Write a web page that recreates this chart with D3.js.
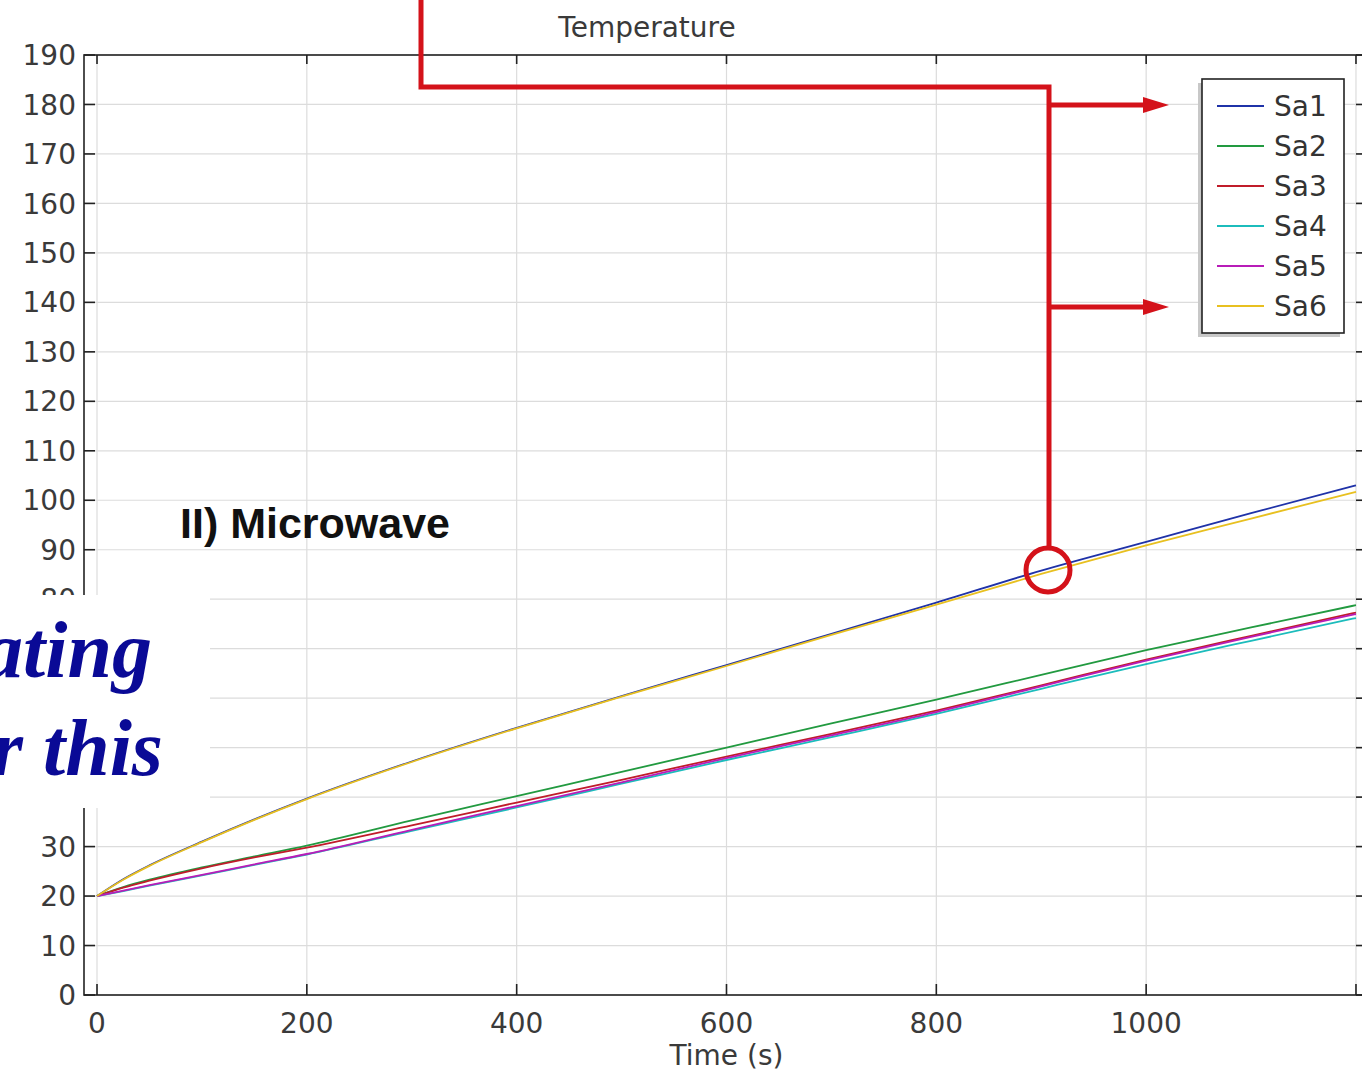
<!DOCTYPE html>
<html>
<head>
<meta charset="utf-8">
<script src="https://cdn.jsdelivr.net/npm/d3@7"></script>
<style>
  body { margin: 0; background: #fff; }
  svg { display: block; }
</style>
</head>
<body>
<div id="chart"></div>
<script>
// time (s) and temperature values
const time = [0, 25, 50, 100, 150, 200, 300, 400, 500, 600, 700, 800, 900, 1000, 1100, 1200];
const sa1 = [20, 23.4, 26.2, 31.0, 35.5, 39.7, 47.2, 54.0, 60.4, 66.7, 73.0, 79.3, 85.8, 91.6, 97.4, 103.0];
const sa2 = [20, 21.8, 23.3, 25.8, 28.0, 30.2, 35.3, 40.2, 45.1, 50.0, 54.9, 59.7, 64.7, 69.7, 74.3, 78.8];
const sa3 = [20, 21.7, 23.1, 25.6, 27.8, 29.8, 34.3, 38.9, 43.5, 48.2, 52.8, 57.5, 62.6, 67.8, 72.6, 77.3];
const sa4 = [20, 21.0, 22.1, 24.2, 26.3, 28.4, 33.2, 37.9, 42.7, 47.5, 52.1, 56.8, 61.9, 66.9, 71.6, 76.2];
const sa5 = [20, 21.1, 22.2, 24.3, 26.4, 28.5, 33.4, 38.2, 43.0, 47.9, 52.5, 57.2, 62.4, 67.6, 72.4, 77.0];
const sa6 = [20, 23.3, 26.1, 30.9, 35.4, 39.6, 47.1, 53.9, 60.3, 66.5, 72.8, 78.9, 85.1, 90.9, 96.3, 101.7];

const seriesNames = ["Sa1", "Sa2", "Sa3", "Sa4", "Sa5", "Sa6"];
const seriesValues = [sa1, sa2, sa3, sa4, sa5, sa6];
const seriesColors = ["#1f32a8", "#229a40", "#c01c2a", "#1cbcbc", "#b81cb8", "#e8c020"];

const xTicks = [0, 200, 400, 600, 800, 1000, 1200];
const xTickLabels = ["0", "200", "400", "600", "800", "1000", ""];
const yTicks = d3.range(0, 191, 10);
// labels hidden under the pasted white box in the reference
const yHidden = [40, 50, 60, 70];

const W = 1362, H = 1074;
const pLeft = 84, pRight = 1367, pTop = 55, pBottom = 995;
const font = "DejaVu Sans";

const svg = d3.select("#chart").append("svg")
    .attr("width", W)
    .attr("height", H);

const x = d3.scaleLinear().domain([-12.4, 1210.5]).range([pLeft, pRight]);
const y = d3.scaleLinear().domain([0, 190]).range([pBottom, pTop]);

svg.append("clipPath").attr("id", "plotclip")
  .append("rect")
    .attr("x", pLeft).attr("y", pTop)
    .attr("width", pRight - pLeft).attr("height", pBottom - pTop);

// grid
const grid = svg.append("g");
grid.selectAll(".gx").data(xTicks).enter().append("line")
    .attr("x1", d => x(d)).attr("x2", d => x(d))
    .attr("y1", pTop).attr("y2", pBottom)
    .attr("stroke", "#dcdcdc").attr("stroke-width", 1.2);
grid.selectAll(".gy").data(yTicks).enter().append("line")
    .attr("x1", pLeft).attr("x2", pRight)
    .attr("y1", d => y(d)).attr("y2", d => y(d))
    .attr("stroke", "#dcdcdc").attr("stroke-width", 1.2);

// data lines
const line = d3.line()
    .x((d, i) => x(time[i]))
    .y(d => y(d))
    .curve(d3.curveMonotoneX);

svg.append("g").attr("clip-path", "url(#plotclip)")
  .selectAll("path").data(seriesValues).enter().append("path")
    .attr("d", line)
    .attr("fill", "none")
    .attr("stroke", (d, i) => seriesColors[i])
    .attr("stroke-width", 1.8);

// frame with inward ticks
const frame = svg.append("g").attr("stroke", "#222").attr("stroke-width", 1.6);
frame.append("rect")
    .attr("x", pLeft).attr("y", pTop)
    .attr("width", pRight - pLeft).attr("height", pBottom - pTop)
    .attr("fill", "none");
frame.selectAll(".tb").data(xTicks).enter().append("line")
    .attr("x1", d => x(d)).attr("x2", d => x(d))
    .attr("y1", pBottom).attr("y2", pBottom - 11);
frame.selectAll(".tt").data(xTicks).enter().append("line")
    .attr("x1", d => x(d)).attr("x2", d => x(d))
    .attr("y1", pTop).attr("y2", pTop + 9);
frame.selectAll(".tl").data(yTicks).enter().append("line")
    .attr("x1", pLeft).attr("x2", pLeft + 11)
    .attr("y1", d => y(d)).attr("y2", d => y(d));
frame.selectAll(".tr").data(yTicks).enter().append("line")
    .attr("x1", pRight).attr("x2", pRight - 11)
    .attr("y1", d => y(d)).attr("y2", d => y(d));

// tick labels
svg.append("g").selectAll("text")
    .data(yTicks.filter(d => !yHidden.includes(d))).enter().append("text")
    .attr("x", 76)
    .attr("y", d => y(d))
    .attr("dy", "0.36em")
    .attr("text-anchor", "end")
    .attr("font-family", font)
    .attr("font-size", 28)
    .attr("fill", "#3a3a3a")
    .text(d => d);

svg.append("g").selectAll("text").data(xTicks).enter().append("text")
    .attr("x", d => x(d))
    .attr("y", 1033)
    .attr("text-anchor", "middle")
    .attr("font-family", font)
    .attr("font-size", 28)
    .attr("fill", "#3a3a3a")
    .text((d, i) => xTickLabels[i]);

svg.append("text")
    .attr("x", x(600)).attr("y", 1065)
    .attr("text-anchor", "middle")
    .attr("font-family", font).attr("font-size", 28)
    .attr("fill", "#3a3a3a")
    .text("Time (s)");

svg.append("text")
    .attr("x", 647).attr("y", 37)
    .attr("text-anchor", "middle")
    .attr("font-family", font).attr("font-size", 28)
    .attr("fill", "#3a3a3a")
    .text("Temperature");

// legend
const lg = svg.append("g");
lg.append("rect")
    .attr("x", 1198).attr("y", 83)
    .attr("width", 142).attr("height", 254)
    .attr("fill", "#c8c8c8");
lg.append("rect")
    .attr("x", 1202).attr("y", 79)
    .attr("width", 142).attr("height", 254)
    .attr("fill", "#fff").attr("stroke", "#222").attr("stroke-width", 1.6);
const items = lg.selectAll(".item").data(seriesNames).enter().append("g")
    .attr("transform", (d, i) => `translate(0, ${106 + i * 40})`);
items.append("line")
    .attr("x1", 1217).attr("x2", 1264)
    .attr("stroke", (d, i) => seriesColors[i])
    .attr("stroke-width", 2);
items.append("text")
    .attr("x", 1274).attr("dy", "0.36em")
    .attr("font-family", font).attr("font-size", 28)
    .attr("fill", "#333")
    .text(d => d);

// red annotation
const red = "#d4121a";
const ann = svg.append("g").attr("stroke", red).attr("stroke-width", 5).attr("fill", "none");
ann.append("path")
    .attr("d", "M421,0 V87 H1049 V548")
    .attr("stroke-linejoin", "miter");
ann.append("circle").attr("cx", 1048).attr("cy", 570).attr("r", 22);
[105, 307].forEach(ay => {
  ann.append("line").attr("x1", 1049).attr("x2", 1146).attr("y1", ay).attr("y2", ay);
  svg.append("path")
      .attr("d", `M1143,${ay - 8} L1169,${ay} L1143,${ay + 8} Z`)
      .attr("fill", red);
});

svg.append("text")
    .attr("x", 180).attr("y", 538)
    .attr("font-family", "Liberation Sans")
    .attr("font-weight", "bold")
    .attr("font-size", 43)
    .attr("fill", "#111")
    .text("II) Microwave");

// pasted-over white box with cut-off text
svg.append("rect")
    .attr("x", 0).attr("y", 595)
    .attr("width", 210).attr("height", 213)
    .attr("fill", "#fff");
const blue = "#0a0a96";
svg.append("text")
    .attr("x", 152).attr("y", 677)
    .attr("text-anchor", "end")
    .attr("font-family", "Liberation Serif")
    .attr("font-weight", "bold").attr("font-style", "italic")
    .attr("font-size", 80)
    .attr("fill", blue)
    .text("ating");
svg.append("text")
    .attr("x", 163).attr("y", 775)
    .attr("text-anchor", "end")
    .attr("font-family", "Liberation Serif")
    .attr("font-weight", "bold").attr("font-style", "italic")
    .attr("font-size", 80)
    .attr("fill", blue)
    .text("r this");
</script>
</body>
</html>
